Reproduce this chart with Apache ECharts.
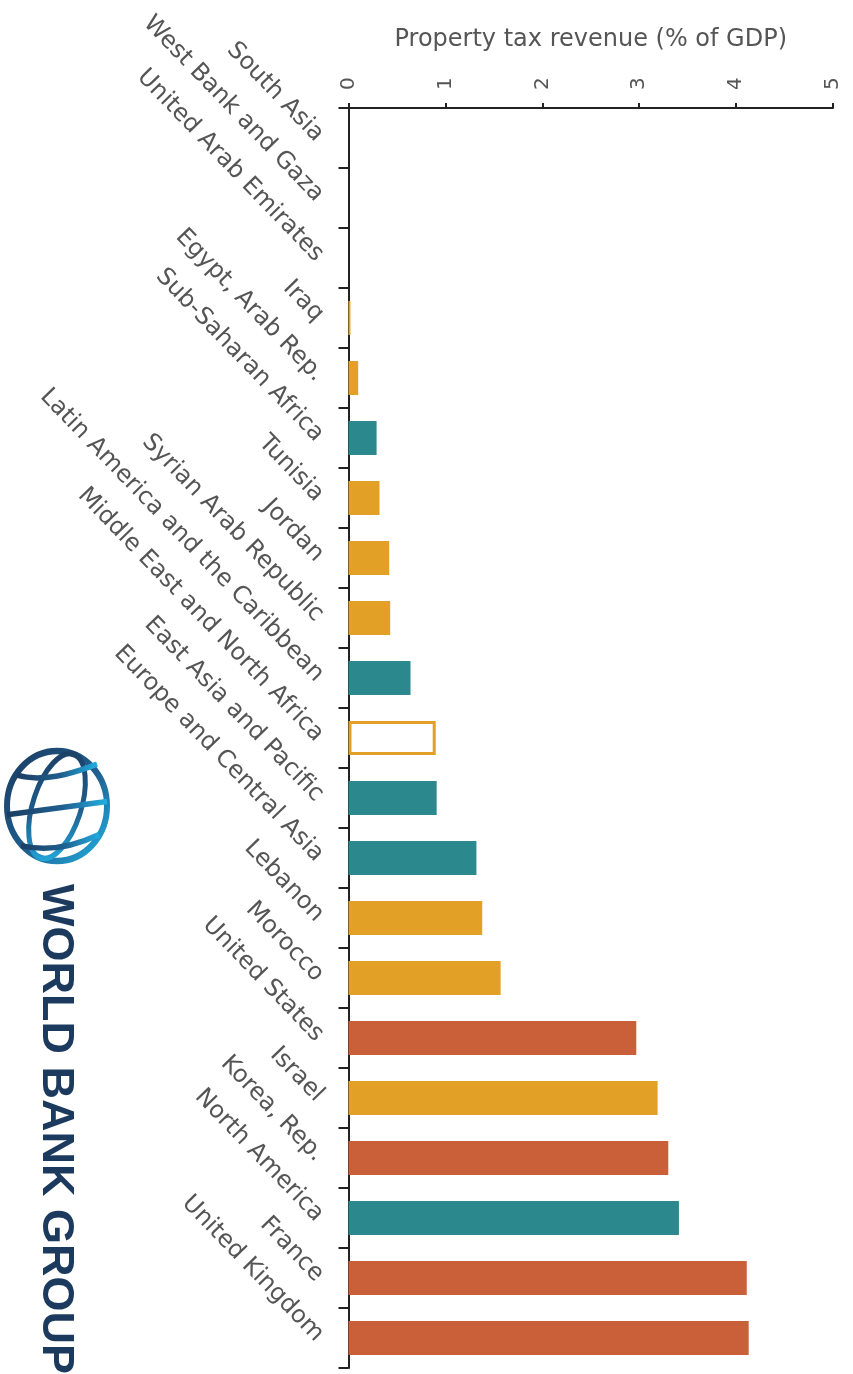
<!DOCTYPE html>
<html><head><meta charset="utf-8">
<script src="https://cdn.jsdelivr.net/npm/echarts@6/dist/echarts.min.js"></script>
<style>html,body{margin:0;padding:0;background:#fff}#c{width:853px;height:1374px}</style>
</head><body><div id="c"></div>
<script>
const categories = ["South Asia","West Bank and Gaza","United Arab Emirates","Iraq","Egypt, Arab Rep.","Sub-Saharan Africa","Tunisia","Jordan","Syrian Arab Republic","Latin America and the Caribbean","Middle East and North Africa","East Asia and Pacific","Europe and Central Asia","Lebanon","Morocco","United States","Israel","Korea, Rep.","North America","France","United Kingdom"];
const values = [0,0,0,0.02,0.1,0.29,0.32,0.42,0.43,0.64,0.9,0.91,1.32,1.38,1.57,2.97,3.19,3.3,3.41,4.11,4.13];
const groups = ["region","mena","mena","mena","mena","region","mena","mena","mena","region","menaAvg","region","region","mena","mena","high","mena","high","region","high","high"];
const valueTicks = ["0","1","2","3","4","5"];
const axisTitle = "Property tax revenue (% of GDP)";
const logoText = "WORLD BANK GROUP";

const COL = {region:'#2b898d', mena:'#e2a027', high:'#c9603a'};
function styleFor(g){
  if(g==='menaAvg') return {color:'#ffffff', borderColor:'#e2a027', borderWidth:3};
  return {color:COL[g]};
}
const FONT = 'DejaVu Sans';
const chart = echarts.init(document.getElementById('c'), null, {renderer:'canvas'});
const grad = new echarts.graphic.LinearGradient(0,0,1,1,[{offset:0,color:'#1b3a5e'},{offset:0.55,color:'#1f5f8f'},{offset:1,color:'#22b8ea'}]);
const globe = {
  type:'group', x:57, y:806, scaleY:1.1, children:[
    {type:'circle', shape:{cx:0,cy:0,r:50}, style:{fill:'none', stroke:grad, lineWidth:6}},
    {type:'ellipse', shape:{cx:0,cy:0,rx:24,ry:50}, rotation:-0.35, style:{fill:'none', stroke:grad, lineWidth:5}},
    {type:'line', shape:{x1:-50,y1:8,x2:50,y2:-4}, style:{stroke:grad, lineWidth:5}},
    {type:'bezierCurve', shape:{x1:-40,y1:-28,x2:40,y2:-38,cpx1:-10,cpy1:-20}, style:{fill:'none',stroke:grad, lineWidth:5}},
    {type:'bezierCurve', shape:{x1:-36,y1:36,x2:42,y2:26,cpx1:0,cpy1:44}, style:{fill:'none',stroke:grad, lineWidth:5}}
  ]
};
chart.setOption({
  animation:false,
  backgroundColor:'#fff',
  grid:{left:348.5, right:20, top:108, bottom:6, containLabel:false},
  xAxis:{type:'value', position:'top', min:0, max:5, interval:1,
    name:axisTitle, nameLocation:'middle', nameGap:56,
    nameTextStyle:{fontFamily:FONT, fontSize:24, color:'#555'},
    axisLine:{show:true, lineStyle:{color:'#222', width:2}},
    axisTick:{show:true, length:5, lineStyle:{color:'#222', width:2}},
    axisLabel:{rotate:-90, margin:18, fontFamily:FONT, fontSize:20, color:'#555', formatter:(v)=>valueTicks[Math.round(v)]},
    splitLine:{show:false}},
  yAxis:{type:'category', inverse:true, data:categories,
    axisLine:{show:true, onZero:false, lineStyle:{color:'#222', width:2}},
    axisTick:{show:true, length:10, lineStyle:{color:'#222', width:2}},
    axisLabel:{rotate:-46, margin:29, fontFamily:FONT, fontSize:24, color:'#555'}},
  series:[{type:'bar', barWidth:34,
    data:values.map((v,i)=>({value:v, itemStyle:styleFor(groups[i])}))}],
  graphic:[globe,
    {type:'text', x:55, y:884, rotation:-Math.PI/2,
     style:{text:logoText, font:'bold 45px "Liberation Sans", Arial, sans-serif', fill:'#1b3a5e', textAlign:'left', textVerticalAlign:'middle'}}]
});
</script></body></html>
